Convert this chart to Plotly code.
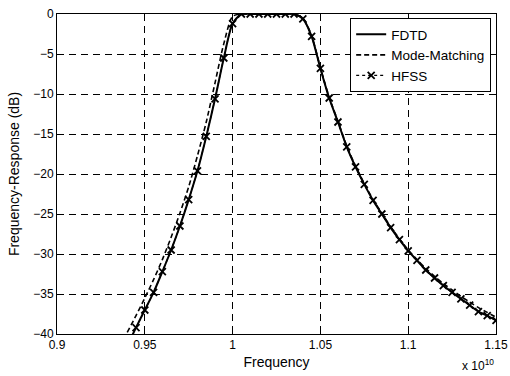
import plotly.graph_objects as go

# Frequencies in units of 1e10 Hz
hfss_f = [0.945, 0.950, 0.955, 0.960, 0.965, 0.970, 0.975, 0.980, 0.985, 0.990,
          0.995, 1.000, 1.005, 1.010, 1.015, 1.020, 1.025, 1.030, 1.035, 1.040,
          1.045, 1.050, 1.055, 1.060, 1.065, 1.070, 1.075, 1.080, 1.085, 1.090,
          1.095, 1.100, 1.105, 1.110, 1.115, 1.120, 1.125, 1.130, 1.135, 1.140,
          1.145, 1.150]
hfss_db = [-39.2, -37.0, -34.8, -32.2, -29.5, -26.5, -23.2, -19.6, -15.3, -10.6,
           -5.5, -1.2, 0.0, 0.0, 0.0, 0.0, 0.0, 0.0, 0.0, -0.6,
           -2.8, -6.8, -10.5, -13.5, -16.6, -19.1, -21.3, -23.3, -25.0, -26.7,
           -28.2, -29.6, -30.8, -32.0, -33.0, -33.95, -34.8, -35.6, -36.4, -37.2,
           -37.7, -38.3]

fdtd_f = [0.940, 0.945, 0.950, 0.955, 0.960, 0.965, 0.970, 0.975, 0.980, 0.985,
          0.990, 0.995, 1.000, 1.005, 1.010, 1.015, 1.020, 1.025, 1.030, 1.035,
          1.040, 1.045, 1.050, 1.055, 1.060, 1.065, 1.070, 1.075, 1.080, 1.085,
          1.090, 1.095, 1.100, 1.105, 1.110, 1.115, 1.120, 1.125, 1.130, 1.135,
          1.140, 1.145, 1.150]
fdtd_db = [-41.5, -39.2, -37.0, -34.8, -32.2, -29.5, -26.5, -23.2, -19.6, -15.3,
           -10.6, -5.5, -1.2, 0.0, 0.0, 0.0, 0.0, 0.0, 0.0, 0.0,
           -0.6, -2.8, -6.8, -10.5, -13.5, -16.6, -19.1, -21.3, -23.3, -25.0,
           -26.7, -28.2, -29.6, -30.8, -32.0, -33.0, -33.95, -34.8, -35.6, -36.4,
           -37.2, -37.7, -38.3]

mm_f = fdtd_f
mm_db = [-39.8, -37.7, -35.5, -33.2, -30.7, -27.9, -24.9, -21.6, -17.7, -13.5,
         -8.6, -3.7, -0.3, 0.0, 0.0, 0.0, 0.0, 0.0, 0.0, 0.0,
         -0.5, -2.7, -6.7, -10.4, -13.4, -16.5, -19.0, -21.2, -23.2, -24.9,
         -26.6, -28.1, -29.5, -30.7, -31.8, -32.8, -33.7, -34.5, -35.3, -36.0,
         -36.7, -37.3, -37.9]

x_ticks = [0.9, 0.95, 1.0, 1.05, 1.1, 1.15]
x_ticklabels = ["0.9", "0.95", "1", "1.05", "1.1", "1.15"]
y_ticks = [-40, -35, -30, -25, -20, -15, -10, -5, 0]

fig = go.Figure()
fig.add_trace(go.Scatter(x=fdtd_f, y=fdtd_db, name="FDTD", mode="lines",
                         line=dict(color="black", width=2, shape="spline", smoothing=0.7)))
fig.add_trace(go.Scatter(x=mm_f, y=mm_db, name="Mode-Matching", mode="lines",
                         line=dict(color="black", width=1.6, dash="5px,3px",
                                   shape="spline", smoothing=0.7)))
fig.add_trace(go.Scatter(x=hfss_f, y=hfss_db, name="HFSS", mode="lines+markers",
                         line=dict(color="black", width=1.2, dash="dot",
                                   shape="spline", smoothing=0.7),
                         marker=dict(symbol="x-thin", size=7,
                                     line=dict(color="black", width=1.8))))

fig.update_layout(
    width=510, height=376,
    margin=dict(l=57, r=14, t=14, b=42),
    paper_bgcolor="white", plot_bgcolor="white",
    font=dict(family="Liberation Sans, Arial, sans-serif", size=12, color="black"),
    showlegend=True,
    legend=dict(x=0.989, y=0.9875, xanchor="right", yanchor="top",
                bgcolor="white", bordercolor="black", borderwidth=1,
                font=dict(size=13.5), tracegroupgap=0),
    annotations=[dict(text="x 10<sup>10</sup>", xref="paper", yref="paper",
                      x=1.0, y=-0.128, xanchor="right", yanchor="bottom",
                      showarrow=False, font=dict(size=12))],
)
fig.update_xaxes(range=[0.9, 1.15], tickvals=x_ticks, ticktext=x_ticklabels,
                 showline=True, linecolor="black", linewidth=1, mirror="ticks",
                 ticks="inside", ticklen=5, tickcolor="black", automargin=False,
                 showgrid=True, gridcolor="black", gridwidth=1, griddash="7px,5px",
                 zeroline=False, title=dict(text="Frequency", standoff=5))
fig.update_yaxes(range=[-40, 0], tickvals=y_ticks,
                 showline=True, linecolor="black", linewidth=1, mirror="ticks",
                 ticks="inside", ticklen=5, tickcolor="black", automargin=False,
                 showgrid=True, gridcolor="black", gridwidth=1, griddash="7px,5px",
                 zeroline=False, title=dict(text="Frequency-Response (dB)", standoff=10))

fig.write_html("out.html")
